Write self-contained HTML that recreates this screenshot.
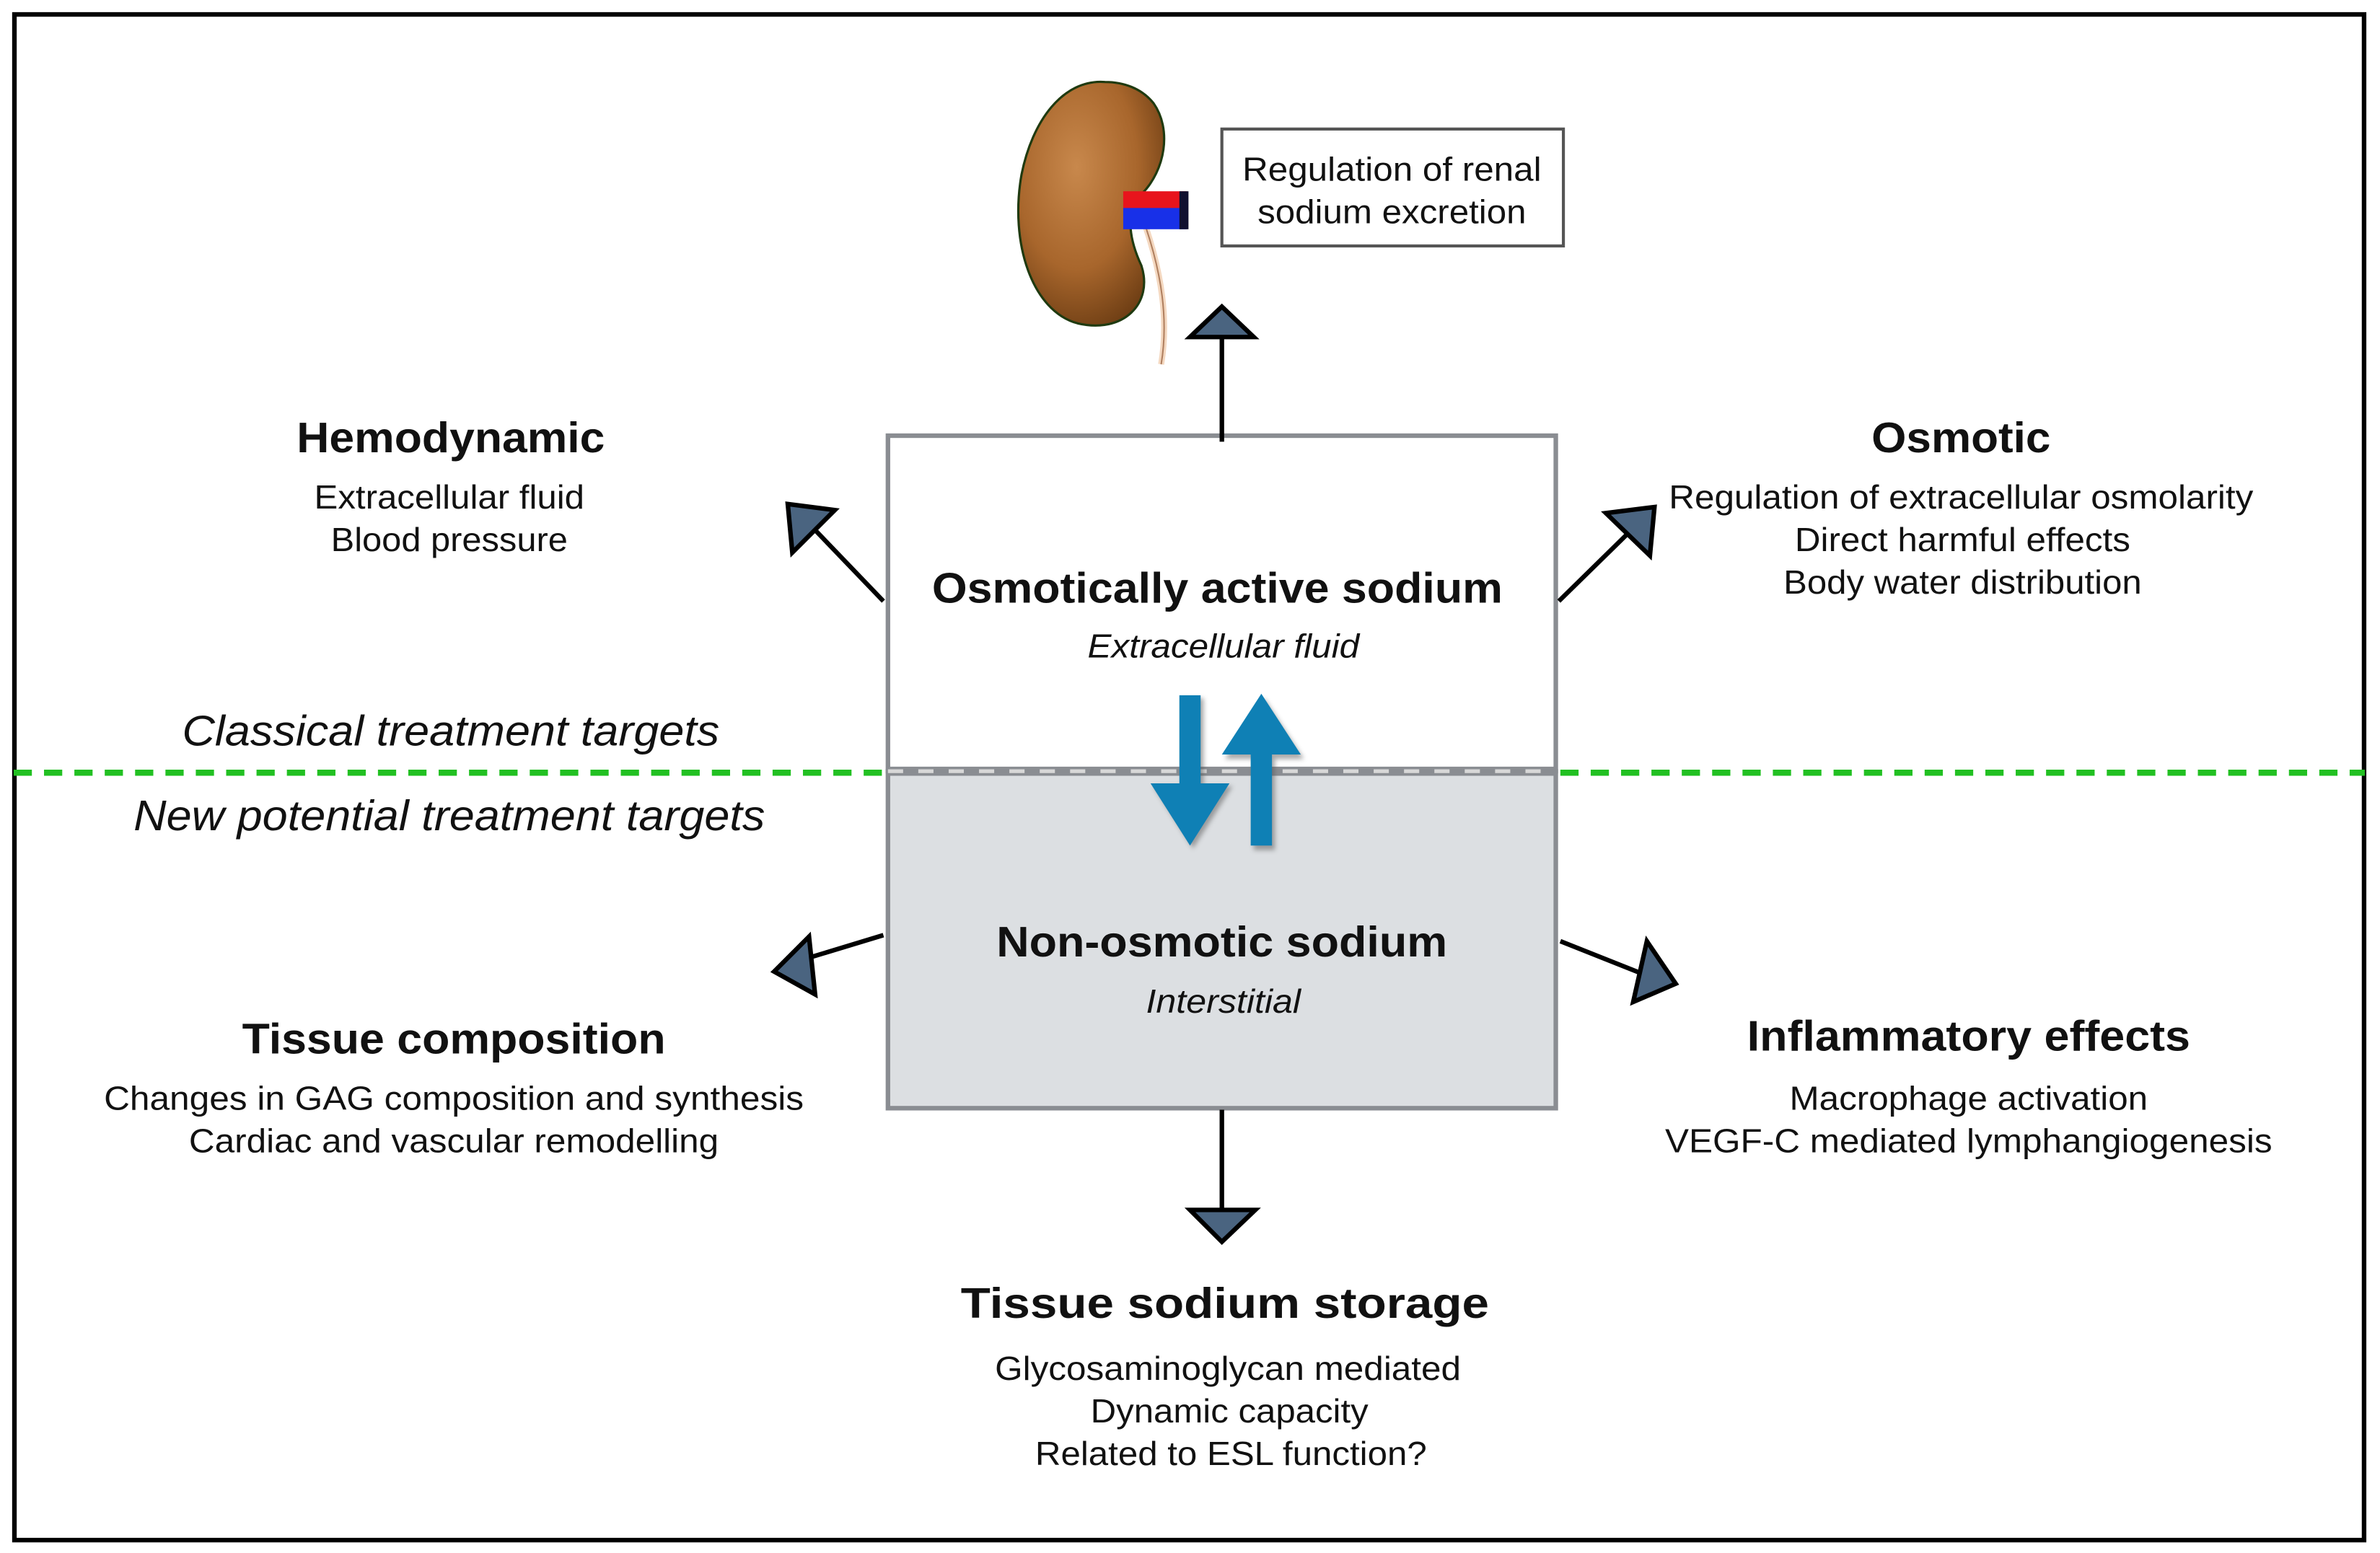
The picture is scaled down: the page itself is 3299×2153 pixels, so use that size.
<!DOCTYPE html>
<html><head><meta charset="utf-8"><style>
html,body{margin:0;padding:0;background:#fff}
svg{display:block}
text{font-family:"Liberation Sans",Arial,sans-serif;fill:#111}
.b{font-weight:bold;font-size:28px}
.n{font-size:22px}
.i{font-style:italic}
</style></head><body>
<svg width="3299" height="2153" viewBox="0 0 1568 1023" preserveAspectRatio="none" xmlns="http://www.w3.org/2000/svg">
<defs>
<radialGradient id="kg" cx="0.4" cy="0.35" r="0.7">
<stop offset="0" stop-color="#c8884c"/><stop offset="0.6" stop-color="#a8662c"/><stop offset="1" stop-color="#6e3e14"/>
</radialGradient>
<filter id="sh"><feGaussianBlur stdDeviation="1.5"/></filter>
</defs>
<rect x="0" y="0" width="1568" height="1023" fill="#fff"/>
<rect x="9.5" y="9.5" width="1548" height="1005" fill="none" stroke="#000" stroke-width="3"/>

<!-- kidney -->
<path d="M728,54 C700,52 680,80 673,115 C665,160 680,205 710,213 C740,220 760,200 752,175 C745,160 740,140 752,128 C768,112 772,85 760,68 C752,58 740,54 728,54 Z" fill="url(#kg)" stroke="#1f3a10" stroke-width="1.5"/>
<path d="M755,150 C765,180 770,210 765,240" stroke="#f4d8c0" stroke-width="4" fill="none"/>
<path d="M755,150 C765,180 770,210 765,240" stroke="#b08060" stroke-width="1" fill="none"/>
<rect x="740" y="126" width="42" height="12" fill="#e8141c"/>
<rect x="740" y="137" width="42" height="14" fill="#1830e8"/>
<rect x="777" y="126" width="6" height="25" fill="#101030"/>

<!-- renal box -->
<rect x="805" y="85" width="225" height="77" fill="#fff" stroke="#555" stroke-width="2"/>
<text class="n" x="917" y="119" text-anchor="middle" textLength="197" lengthAdjust="spacingAndGlyphs">Regulation of renal</text>
<text class="n" x="917" y="147" text-anchor="middle" textLength="177" lengthAdjust="spacingAndGlyphs">sodium excretion</text>

<!-- boxes -->
<rect x="585" y="287" width="440" height="221" fill="#fff" stroke="#8a8d92" stroke-width="3"/>
<rect x="585" y="508" width="440" height="222" fill="#dcdfe2" stroke="#8a8d92" stroke-width="3"/>
<line x1="585" y1="508" x2="1025" y2="508" stroke="#8a8d92" stroke-width="6"/>
<line x1="585" y1="508" x2="1025" y2="508" stroke="#d8d8d8" stroke-width="2.5" stroke-dasharray="10,10"/>
<line x1="9" y1="509" x2="585" y2="509" stroke="#22c022" stroke-width="4" stroke-dasharray="12,8"/>
<line x1="1028" y1="509" x2="1558" y2="509" stroke="#22c022" stroke-width="4" stroke-dasharray="12,8"/>

<!-- blue arrows -->
<g filter="url(#sh)" opacity="0.5">
<path d="M779,460 h14 v58 h19 l-26,41 l-26,-41 h19 z" fill="#555"/>
<path d="M826,500 h-19 l26,-40 l26,40 h-19 v60 h-14 z" fill="#555"/>
</g>
<path d="M777,458 h14 v58 h19 l-26,41 l-26,-41 h19 z" fill="#0f80b5"/>
<path d="M824,497 h-19 l26,-40 l26,40 h-19 v60 h-14 z" fill="#0f80b5"/>

<!-- connectors -->
<g stroke="#000" stroke-width="3" fill="#4a6480" stroke-linejoin="miter">
<line x1="805" y1="291" x2="805" y2="222"/>
<path d="M805,202 L826,222 L784,222 Z"/>
<line x1="582" y1="396" x2="533" y2="345"/>
<path d="M519,332 L550,336 L522,364 Z"/>
<line x1="1027" y1="396" x2="1077" y2="347"/>
<path d="M1090,334 L1087,366 L1058,338 Z"/>
<line x1="582" y1="616" x2="526" y2="633"/>
<path d="M510,640 L533,617 L537,655 Z"/>
<line x1="1028" y1="620" x2="1086" y2="643"/>
<path d="M1104,648 L1076,660 L1085,620 Z"/>
<line x1="805" y1="731" x2="805" y2="797"/>
<path d="M805,818 L784,797 L827,797 Z"/>
</g>

<!-- texts -->
<text class="b" x="297" y="298" text-anchor="middle" textLength="203" lengthAdjust="spacingAndGlyphs">Hemodynamic</text>
<text class="n" x="296" y="335" text-anchor="middle" textLength="178" lengthAdjust="spacingAndGlyphs">Extracellular fluid</text>
<text class="n" x="296" y="363" text-anchor="middle" textLength="156" lengthAdjust="spacingAndGlyphs">Blood pressure</text>

<text class="b" x="1292" y="298" text-anchor="middle" textLength="118" lengthAdjust="spacingAndGlyphs">Osmotic</text>
<text class="n" x="1292" y="335" text-anchor="middle" textLength="385" lengthAdjust="spacingAndGlyphs">Regulation of extracellular osmolarity</text>
<text class="n" x="1293" y="363" text-anchor="middle" textLength="221" lengthAdjust="spacingAndGlyphs">Direct harmful effects</text>
<text class="n" x="1293" y="391" text-anchor="middle" textLength="236" lengthAdjust="spacingAndGlyphs">Body water distribution</text>

<text class="b" x="802" y="397" text-anchor="middle" textLength="376" lengthAdjust="spacingAndGlyphs">Osmotically active sodium</text>
<text class="n i" x="806" y="433" text-anchor="middle" textLength="179" lengthAdjust="spacingAndGlyphs">Extracellular fluid</text>

<text class="i" x="297" y="491" text-anchor="middle" font-size="28" textLength="354" lengthAdjust="spacingAndGlyphs">Classical treatment targets</text>
<text class="i" x="296" y="547" text-anchor="middle" font-size="28" textLength="416" lengthAdjust="spacingAndGlyphs">New potential treatment targets</text>

<text class="b" x="805" y="630" text-anchor="middle" textLength="297" lengthAdjust="spacingAndGlyphs">Non-osmotic sodium</text>
<text class="n i" x="806" y="667" text-anchor="middle" textLength="102" lengthAdjust="spacingAndGlyphs">Interstitial</text>

<text class="b" x="299" y="694" text-anchor="middle" textLength="279" lengthAdjust="spacingAndGlyphs">Tissue composition</text>
<text class="n" x="299" y="731" text-anchor="middle" textLength="461" lengthAdjust="spacingAndGlyphs">Changes in GAG composition and synthesis</text>
<text class="n" x="299" y="759" text-anchor="middle" textLength="349" lengthAdjust="spacingAndGlyphs">Cardiac and vascular remodelling</text>

<text class="b" x="1297" y="692" text-anchor="middle" textLength="292" lengthAdjust="spacingAndGlyphs">Inflammatory effects</text>
<text class="n" x="1297" y="731" text-anchor="middle" textLength="236" lengthAdjust="spacingAndGlyphs">Macrophage activation</text>
<text class="n" x="1297" y="759" text-anchor="middle" textLength="400" lengthAdjust="spacingAndGlyphs">VEGF-C mediated lymphangiogenesis</text>

<text class="b" x="807" y="868" text-anchor="middle" textLength="348" lengthAdjust="spacingAndGlyphs">Tissue sodium storage</text>
<text class="n" x="809" y="909" text-anchor="middle" textLength="307" lengthAdjust="spacingAndGlyphs">Glycosaminoglycan mediated</text>
<text class="n" x="810" y="937" text-anchor="middle" textLength="183" lengthAdjust="spacingAndGlyphs">Dynamic capacity</text>
<text class="n" x="811" y="965" text-anchor="middle" textLength="258" lengthAdjust="spacingAndGlyphs">Related to ESL function?</text>
</svg>
</body></html>
